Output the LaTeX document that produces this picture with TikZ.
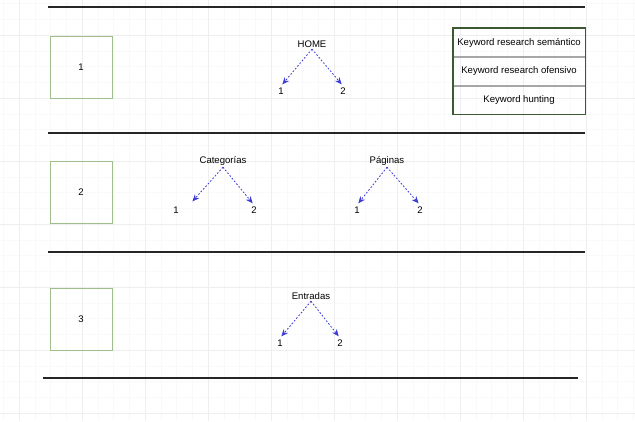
\documentclass[tikz,border=0pt]{standalone}
\usepackage{fontspec}
\setmainfont{Liberation Sans}
\usetikzlibrary{positioning,calc,arrows.meta}
\definecolor{boxgreen}{RGB}{160,190,140}
\definecolor{tablegreen}{RGB}{60,90,50}
\definecolor{arrowblue}{RGB}{60,60,215}
\tikzset{
  txt/.style={inner sep=1pt, font=\fontsize{6.8}{8}\selectfont},
  levelbox/.style={draw=boxgreen, line width=0.6pt, minimum size=62*0.025cm, inner sep=0pt, font=\fontsize{6.8}{8}\selectfont},
  rowcell/.style={draw=gray!70, line width=0.4pt, minimum width=132*0.025cm, minimum height=28.3*0.025cm, inner sep=0pt, font=\fontsize{6.8}{8}\selectfont},
  link/.style={-{Stealth[length=5pt,width=4.2pt]}, arrowblue, line width=0.6pt, dash pattern=on 1.2pt off 1.3pt, shorten >=1.5pt},
  rule/.style={line width=0.9pt, black!85}
}
\begin{document}
\begin{tikzpicture}[x=0.025cm,y=-0.025cm]
  \useasboundingbox (0,0) rectangle (635,421);
  % grid
  \draw[gray!5, line width=0.3pt, shift={(19,35)}, step=15.75*0.025cm] (-19,-35) grid (616,386);
  \draw[gray!13, line width=0.4pt, shift={(19,35)}, step=63*0.025cm] (-19,-35) grid (616,386);
  % rules
  \draw[rule] (48,7) -- (585,7);
  \draw[rule] (48,133) -- (585,133);
  \draw[rule] (48,252) -- (585,252);
  \draw[rule] (43,378) -- (578,378);
  % level boxes
  \node[levelbox] (lvl1) at (81,67) {1};
  \node[levelbox] (lvl2) at (81,192) {2};
  \node[levelbox] (lvl3) at (81,319) {3};
  % keyword table
  \node[rowcell] (kw1) at (519,42.5) {Keyword research semántico};
  \node[rowcell, below=0pt of kw1] (kw2) {Keyword research ofensivo};
  \node[rowcell, below=0pt of kw2] (kw3) {Keyword hunting};
  \draw[tablegreen, line width=1.1pt] (kw1.north west) rectangle (kw3.south east);
  % HOME
  \node[txt] (home) at (312,44) {HOME};
  \node[txt] (home1) at (281,91) {1};
  \node[txt] (home2) at (343,91) {2};
  \draw[link] (home.south) -- (home1.north);
  \draw[link] (home.south) -- (home2.north);
  % Categorias
  \node[txt] (cat) at (223,161) {Categorías};
  \node[txt] (cat1) at (176,210) {1};
  \node[txt] (cat2) at (254,210) {2};
  \draw[link] (cat.south) -- ($(cat1.north)+(15,-2)$);
  \draw[link] (cat.south) -- (cat2.north);
  % Paginas
  \node[txt] (pag) at (387,161) {Páginas};
  \node[txt] (pag1) at (357,210) {1};
  \node[txt] (pag2) at (420,210) {2};
  \draw[link] (pag.south) -- (pag1.north);
  \draw[link] (pag.south) -- (pag2.north);
  % Entradas
  \node[txt] (ent) at (311,296) {Entradas};
  \node[txt] (ent1) at (280,343) {1};
  \node[txt] (ent2) at (340,343) {2};
  \draw[link] (ent.south) -- (ent1.north);
  \draw[link] (ent.south) -- (ent2.north);
\end{tikzpicture}
\end{document}
